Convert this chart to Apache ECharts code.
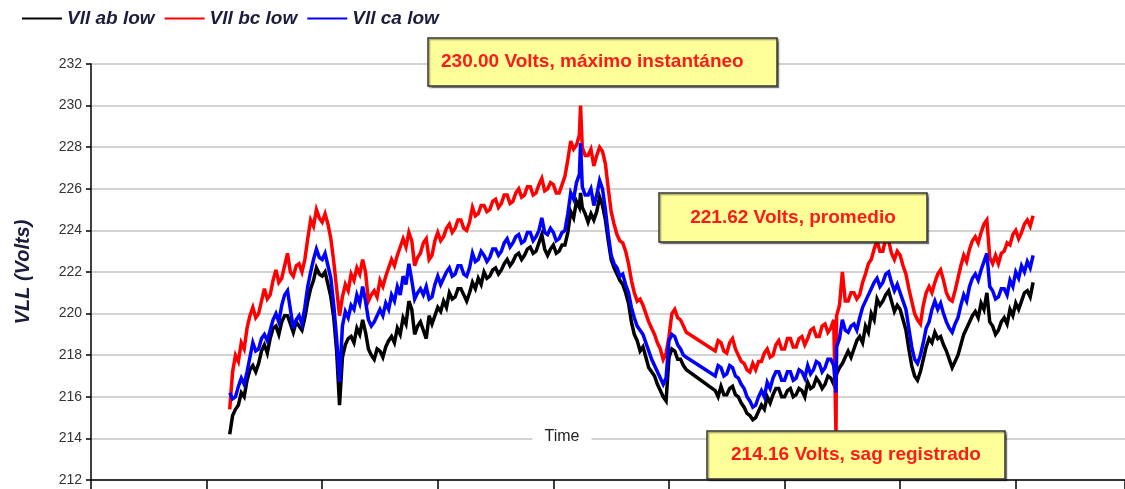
<!DOCTYPE html>
<html>
<head>
<meta charset="utf-8">
<script src="https://cdn.jsdelivr.net/npm/echarts@6/dist/echarts.min.js"></script>
<style>
html,body{margin:0;padding:0;background:#fff;}
#chart{width:1125px;height:489px;}
</style>
</head>
<body>
<div id="chart"></div>
<script>
// time axis (arbitrary sample units, tick every 20)
var timeValues = [
  24,24.5,25,25.5,26,26.5,27,27.5,28,28.5,29,29.5,30,30.5,31,31.5,32,32.5,33,33.5,
  34,34.5,35,35.5,36,36.5,37,37.5,38,38.5,39,39.5,40,40.5,41,41.5,42,42.5,43,43.5,
  44,44.5,45,45.5,46,46.5,47,47.5,48,48.5,49,49.5,50,50.5,51,51.5,52,52.5,53,53.5,
  54,54.5,55,55.5,56,56.5,57,57.5,58,58.5,59,59.5,60,60.5,61,61.5,62,62.5,63,63.5,
  64,64.5,65,65.5,66,66.5,67,67.5,68,68.5,69,69.5,70,70.5,71,71.5,72,72.5,73,73.5,
  74,74.5,75,75.5,76,76.5,77,77.5,78,78.5,79,79.5,80,80.5,81,81.5,82,82.5,83,83.5,
  84,84.5,84.7,85,85.5,86,86.5,87,87.5,88,88.5,89,89.5,90,90.5,91,91.5,92,92.5,93,93.5,
  94,94.5,95,95.5,96,96.5,97,97.5,98,98.5,99,99.5,100,100.5,101,101.5,102,102.5,103,
  108,108.5,109,109.5,110,110.5,111,111.5,112,112.5,113,113.5,114,114.5,115,115.5,116,116.5,117,117.5,
  118,118.5,119,119.5,120,120.5,121,121.5,122,122.5,123,123.5,124,124.5,125,125.5,126,126.5,127,127.5,
  128,128.5,128.9,129,129.5,130,130.5,131,131.5,132,132.5,133,133.5,134,134.5,135,135.5,136,136.5,137,137.5,
  138,138.5,139,139.5,140,140.5,141,141.5,142,142.5,143,143.5,144,144.5,145,145.5,146,146.5,147,147.5,
  148,148.5,149,149.5,150,150.5,151,151.5,152,152.5,153,153.5,154,154.5,155,155.5,156,156.5,157,157.5,
  158,158.5,159,159.5,160,160.5,161,161.5,162,162.5,163];

var vllAbLow = [
  214.2,215.1,215.4,215.6,216.2,216.0,216.8,217.3,217.5,217.2,217.6,218.2,218.5,218.1,218.8,219.3,219.4,219.0,219.6,219.9,
  219.9,219.5,219.1,219.6,219.4,219.2,219.8,220.6,221.2,221.6,222.2,221.9,221.8,222.0,221.4,220.8,219.8,218.2,215.6,217.9,
  218.5,218.8,218.9,218.6,219.3,219.0,219.7,219.1,218.3,218.0,217.8,218.3,218.2,217.9,218.4,218.7,218.9,218.6,219.3,219.0,
  219.8,219.5,220.6,220.2,219.0,219.4,219.6,219.2,218.8,219.9,219.5,219.9,220.3,220.1,220.6,220.3,221.0,220.7,220.8,221.2,
  221.2,220.9,220.6,221.0,221.5,221.2,221.7,221.4,222.0,221.7,221.8,222.1,222.2,221.9,222.1,222.4,222.6,222.3,222.5,222.8,
  222.9,222.6,222.8,223.1,223.2,222.9,223.0,223.4,223.8,223.1,222.8,223.1,223.3,222.9,223.0,223.3,223.3,223.9,224.9,224.6,
  225.4,225.1,225.8,225.1,224.8,224.4,224.8,224.5,224.9,225.6,225.2,224.5,223.5,222.6,222.2,221.9,221.6,221.4,221.0,220.5,219.6,
  219.0,218.7,218.2,218.4,217.9,217.4,217.2,217.0,216.6,216.3,216.0,215.8,217.9,218.3,218.2,217.8,217.8,217.5,217.3,
  216.3,216.0,216.5,216.1,216.1,216.4,216.5,216.1,216.0,215.7,215.5,215.2,215.1,214.9,215.0,215.3,215.6,215.4,216.0,215.7,
  216.1,216.4,216.4,216.0,216.0,216.3,216.4,216.0,216.1,216.4,216.3,216.0,216.7,216.4,216.5,216.9,216.7,216.4,216.6,217.0,
  216.9,216.6,216.9,217.1,217.4,217.6,217.9,218.2,217.9,218.3,218.7,218.9,218.6,219.4,219.1,220.0,219.7,220.7,220.4,220.6,220.9,
  221.1,220.6,220.1,220.4,220.2,219.7,219.2,218.3,217.5,217.0,216.8,217.2,217.8,218.4,218.8,218.6,219.1,218.8,218.9,218.5,
  218.2,217.8,217.4,217.7,218.0,218.5,219.0,219.3,219.6,219.9,220.1,219.8,220.5,220.2,221.0,219.6,219.4,219.0,219.2,219.6,
  219.8,219.5,220.2,219.9,220.5,220.2,220.6,221.0,221.1,220.8,221.5];

var vllBcLow = [
  215.4,217.2,218.0,217.7,218.6,218.3,219.3,219.9,220.3,219.8,220.0,220.6,221.2,220.7,220.9,221.6,222.1,221.5,221.7,222.3,
  222.9,222.0,221.8,222.3,222.4,222.0,222.6,223.6,224.5,224.2,225.0,224.6,224.4,224.8,224.3,223.6,222.5,221.2,219.9,220.8,
  221.4,221.1,221.9,221.6,222.2,221.9,222.6,222.0,220.6,220.9,221.1,220.8,221.6,221.3,221.8,222.2,222.6,222.3,222.8,223.2,
  223.6,223.2,223.9,223.5,222.3,222.7,222.9,223.4,223.6,222.6,222.8,223.5,223.9,223.5,223.7,224.1,224.3,223.9,224.1,224.5,
  224.5,224.1,224.0,224.4,225.1,224.7,224.8,225.2,225.2,224.9,225.0,225.4,225.5,225.1,225.3,225.7,225.7,225.3,225.4,225.8,
  226.0,225.6,225.7,226.1,226.1,225.7,225.8,226.2,226.5,225.9,226.0,226.3,226.2,225.8,225.8,226.2,226.6,227.4,228.3,227.9,
  228.1,228.6,230.0,228.0,227.6,227.6,227.9,227.1,227.6,228.0,227.8,227.2,226.0,224.9,224.3,223.8,223.5,223.4,223.0,222.4,221.6,
  221.0,220.6,220.7,220.4,220.0,219.6,219.3,219.0,218.6,218.3,217.8,218.1,218.9,220.0,220.2,219.8,219.7,219.4,219.1,
  218.2,218.7,218.6,218.2,218.1,218.6,218.8,218.3,218.0,217.7,217.6,217.3,217.2,217.6,217.3,217.7,217.7,218.1,218.3,217.9,
  218.0,218.5,218.7,218.3,218.3,218.8,218.8,218.4,218.4,218.8,218.9,218.5,218.8,219.2,219.3,218.9,218.9,219.4,219.5,219.1,
  219.3,219.7,214.16,219.9,220.4,222.0,220.6,220.6,221.0,221.0,220.7,220.9,221.5,221.9,222.4,222.6,223.1,223.5,223.0,223.0,223.6,
  223.5,222.9,222.6,223.0,222.8,222.3,221.9,221.2,220.6,220.0,219.7,219.5,220.4,221.0,221.3,221.0,221.5,221.9,222.1,221.6,
  221.0,220.7,220.6,221.1,221.7,222.3,222.8,222.5,223.1,223.5,223.7,223.4,223.9,224.3,224.5,222.7,222.4,222.8,222.4,222.9,
  223.0,223.4,223.3,223.8,224.0,223.6,223.9,224.3,224.5,224.2,224.7];

var vllCaLow = [
  216.2,215.9,216.0,216.5,216.9,216.6,217.2,217.9,218.6,218.2,218.3,218.8,219.0,218.7,219.2,219.7,220.0,219.6,220.4,220.9,
  221.1,220.2,219.3,219.7,219.9,219.5,220.3,221.3,222.0,222.6,223.1,222.7,222.6,222.9,222.3,221.7,220.4,218.8,216.7,219.4,
  220.1,219.8,220.4,220.2,220.9,220.5,221.3,220.6,219.7,219.4,219.6,219.9,220.2,219.9,220.5,220.2,220.9,220.6,221.3,220.9,
  221.8,221.4,222.4,221.6,220.7,221.0,221.2,220.9,221.3,220.7,220.8,221.4,221.8,221.4,221.7,222.0,222.2,221.8,221.9,222.3,
  222.3,221.9,221.8,222.2,222.9,222.5,222.6,223.0,222.8,222.5,222.7,223.1,223.1,222.8,223.0,223.4,223.6,223.2,223.4,223.7,
  223.8,223.4,223.5,223.9,223.9,223.5,223.7,224.0,224.6,223.9,223.8,224.1,223.9,223.5,223.6,223.9,224.0,224.8,225.8,225.5,
  226.3,226.7,228.2,226.1,225.7,225.7,226.0,225.2,225.7,226.4,226.0,225.0,223.8,222.8,222.4,222.2,221.8,221.9,221.4,221.0,220.3,
  219.8,219.4,219.2,219.0,218.6,218.2,217.8,217.5,217.2,216.9,216.6,216.9,218.7,219.0,218.9,218.5,218.3,218.0,217.9,
  217.0,217.5,217.4,217.0,217.1,217.5,217.4,217.0,216.9,216.6,216.4,216.0,215.8,215.5,215.6,216.0,216.3,216.0,216.7,216.4,
  216.9,217.2,217.2,216.8,216.8,217.2,217.2,216.8,216.9,217.3,217.2,216.9,217.5,217.1,217.3,217.7,217.6,217.2,217.4,217.8,
  217.8,217.5,216.2,218.4,218.8,219.7,219.2,219.1,219.4,219.5,219.2,219.8,220.3,220.6,220.9,221.2,221.5,221.7,221.3,221.5,221.9,
  222.0,221.5,221.1,221.4,221.0,220.6,220.2,219.3,218.4,217.8,217.6,218.0,218.6,219.3,219.6,220.2,220.6,220.2,220.5,220.0,
  219.6,219.3,219.1,219.5,219.8,220.4,220.9,220.6,221.3,221.7,221.9,221.6,222.1,222.5,222.9,221.3,221.1,220.7,220.8,221.2,
  221.2,220.9,221.6,221.3,222.0,221.7,222.3,222.0,222.5,222.2,222.8];

var seriesNames = ['Vll ab low', 'Vll bc low', 'Vll ca low'];
var seriesColors = ['#000000', '#ff0000', '#0000ff'];
var yTicks = {min: 212, max: 232, step: 2};

function pairs(vals) {
  return timeValues.map(function (t, i) { return [t, vals[i]]; });
}

var chart = echarts.init(document.getElementById('chart'), null, {renderer: 'canvas'});
var FONT = '"Liberation Sans", Arial, sans-serif';

function box(x, y, w, h, text, tx, align) {
  return [
    {type: 'rect', z: 100, shape: {x: x, y: y, width: w, height: h},
     style: {fill: '#ffff99', stroke: '#333333', lineWidth: 1.5,
             shadowColor: 'rgba(0,0,0,0.35)', shadowOffsetX: 1.5, shadowOffsetY: 1.5, shadowBlur: 1}},
    {type: 'text', z: 101, x: tx, y: y + h / 2,
     style: {text: text, fill: '#ff1a1a', font: 'bold 19px ' + FONT,
             textAlign: align, textVerticalAlign: 'middle'}}
  ];
}

var graphics = [].concat(
  box(428, 38, 349, 48, '230.00 Volts, máximo instantáneo', 441, 'left'),
  box(659, 193, 268, 49, '221.62 Volts, promedio', 793, 'center'),
  box(707, 431, 298, 48, '214.16 Volts, sag registrado', 856, 'center'),
  [{type: 'text', z: 50, x: 562, y: 437,
    style: {text: 'Time', fill: '#222', font: '16px ' + FONT, textAlign: 'center',
            textVerticalAlign: 'middle', backgroundColor: '#ffffff', padding: [2, 12]}}]
);

chart.setOption({
  animation: false,
  backgroundColor: '#ffffff',
  legend: {
    left: 17, top: 4, itemWidth: 40, itemHeight: 2, itemGap: 10, icon: 'rect',
    data: seriesNames,
    textStyle: {fontFamily: FONT, fontSize: 19, fontStyle: 'italic', fontWeight: 'bold', color: '#1c1c3c'}
  },
  grid: {left: 91, right: 0, top: 64, bottom: 9, containLabel: false},
  xAxis: {
    type: 'value', min: 0, max: 178.9, interval: 20,
    axisLine: {show: true, lineStyle: {color: '#000', width: 1.5}},
    axisTick: {show: true, inside: false, length: 9, lineStyle: {color: '#000', width: 1.5}},
    axisLabel: {show: false},
    splitLine: {show: false}
  },
  yAxis: {
    type: 'value', min: yTicks.min, max: yTicks.max, interval: yTicks.step,
    name: 'VLL (Volts)', nameLocation: 'middle', nameGap: 58, nameRotate: 90,
    nameTextStyle: {fontFamily: FONT, fontSize: 20, fontStyle: 'italic', fontWeight: 'bold', color: '#1c1c3c'},
    axisLine: {show: true, lineStyle: {color: '#000', width: 1.5}},
    axisTick: {show: true, length: 5, lineStyle: {color: '#000', width: 1.5}},
    axisLabel: {fontFamily: FONT, fontSize: 14, color: '#333', margin: 9},
    splitLine: {show: true, lineStyle: {color: '#c4c4c4', width: 1.5}}
  },
  series: [vllAbLow, vllBcLow, vllCaLow].map(function (vals, i) {
    return {
      name: seriesNames[i], type: 'line', data: pairs(vals), symbol: 'none', showSymbol: false,
      color: seriesColors[i], lineStyle: {color: seriesColors[i], width: 3.5, join: 'miter', miterLimit: 4}, z: 2 + i
    };
  }),
  graphic: graphics
});
</script>
</body>
</html>
